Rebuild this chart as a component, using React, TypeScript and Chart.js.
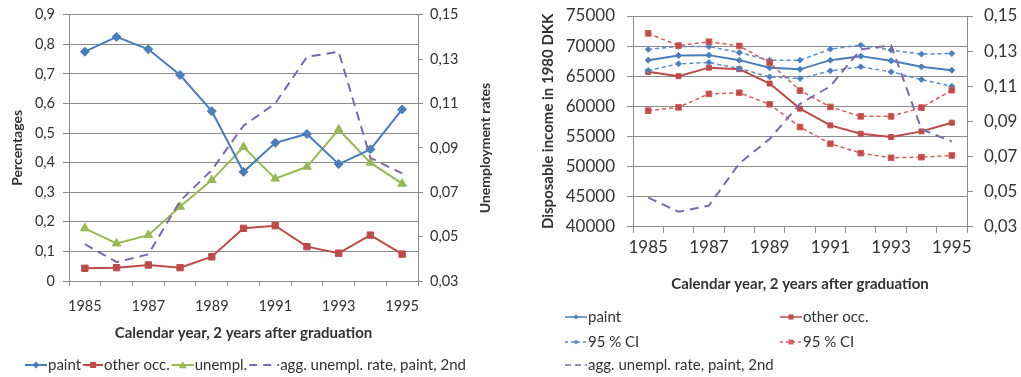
import React, { useEffect, useRef } from 'react';
import { Chart, registerables } from 'chart.js';

Chart.register(...registerables);

// ---------- data ----------
const years = ['1985', '1986', '1987', '1988', '1989', '1990', '1991', '1992', '1993', '1994', '1995'];
const yearTickLabels = ['1985', '', '1987', '', '1989', '', '1991', '', '1993', '', '1995'];

// left chart (shares, left axis)
const paintShare = [0.775, 0.825, 0.783, 0.696, 0.574, 0.369, 0.467, 0.497, 0.395, 0.445, 0.58];
const otherShare = [0.043, 0.045, 0.054, 0.045, 0.082, 0.178, 0.187, 0.116, 0.094, 0.155, 0.091];
const unemplShare = [0.178, 0.127, 0.155, 0.251, 0.341, 0.453, 0.346, 0.386, 0.512, 0.4, 0.329];
// aggregate unemployment rate (right axis, both charts)
const aggUnemplRate = [0.0466, 0.0385, 0.042, 0.066, 0.08, 0.1, 0.11, 0.131, 0.1333, 0.0855, 0.0785];

// right chart (disposable income, left axis)
const paintIncome = [67667, 68450, 68500, 67667, 66400, 66140, 67667, 68333, 67556, 66556, 66000];
const paintIncomeHi = [69444, 69944, 69944, 68920, 67667, 67667, 69500, 70167, 69333, 68667, 68778];
const paintIncomeLo = [65944, 67055, 67278, 66278, 64889, 64611, 65889, 66556, 65722, 64444, 63333];
const otherIncome = [65722, 65000, 66420, 66167, 63778, 59611, 56833, 55444, 54889, 55833, 57278];
const otherIncomeHi = [72111, 70083, 70722, 70028, 67250, 62611, 59889, 58333, 58333, 59778, 62667];
const otherIncomeLo = [59278, 59833, 62055, 62250, 60333, 56556, 53778, 52222, 51444, 51556, 51833];

// ---------- styles ----------
const FONT = 'Lato, "Open Sans", sans-serif';
const TEXT = '#333333';
const GRID = '#8c8c8c';
const BLUE = '#4a7ebb';
const BLUE_LIGHT = '#5b8dcc';
const RED = '#be4b48';
const RED_LIGHT = '#d35f5c';
const GREEN = '#98b954';
const PURPLE = '#8068a8';

type Marker = 'diamond' | 'square' | 'triangle' | 'none';
interface LegendEntry {
  text: string;
  color: string;
  dash: number[];
  marker: Marker;
  r: number;
  lw: number;
}
interface LegendSlot {
  x: number;
  w: number;
  tx: number;
  y: number;
}
interface LegendFlow {
  x: number;
  y: number;
  widths: number[];
  gapText: number;
  gapItem: number;
}

function drawMarker(ctx: CanvasRenderingContext2D, kind: Marker, x: number, y: number, r: number, color: string) {
  if (kind === 'none') return;
  ctx.save();
  ctx.setLineDash([]);
  ctx.fillStyle = color;
  ctx.beginPath();
  if (kind === 'diamond') {
    ctx.moveTo(x, y - r);
    ctx.lineTo(x + r, y);
    ctx.lineTo(x, y + r);
    ctx.lineTo(x - r, y);
  } else if (kind === 'square') {
    ctx.rect(x - r, y - r, 2 * r, 2 * r);
  } else {
    ctx.moveTo(x, y - r);
    ctx.lineTo(x + r, y + r * 0.8);
    ctx.lineTo(x - r, y + r * 0.8);
  }
  ctx.closePath();
  ctx.fill();
  ctx.restore();
}

function drawSample(ctx: CanvasRenderingContext2D, e: LegendEntry, x: number, y: number, w: number) {
  ctx.save();
  ctx.strokeStyle = e.color;
  ctx.lineWidth = e.lw;
  ctx.setLineDash(e.dash);
  ctx.beginPath();
  ctx.moveTo(x, y);
  ctx.lineTo(x + w, y);
  ctx.stroke();
  ctx.restore();
  drawMarker(ctx, e.marker, x + w / 2, y, e.r, e.color);
}

interface OverlayCfg {
  font: string;
  items: LegendEntry[];
  slots?: LegendSlot[];
  flow?: LegendFlow;
  rotatedTitle?: { text: string; x: number; y: number; font: string };
}

function makeOverlay(cfg: OverlayCfg) {
  return {
    id: 'xlOverlay',
    afterDraw(chart: any) {
      const ctx: CanvasRenderingContext2D = chart.ctx;
      ctx.save();
      ctx.font = cfg.font;
      ctx.textBaseline = 'middle';
      ctx.textAlign = 'left';
      if (cfg.flow) {
        const f = cfg.flow;
        let x = f.x;
        cfg.items.forEach((e, i) => {
          const w = f.widths[i];
          drawSample(ctx, e, x, f.y, w);
          x += w + f.gapText;
          ctx.fillStyle = TEXT;
          ctx.fillText(e.text, x, f.y);
          x += ctx.measureText(e.text).width + f.gapItem;
        });
      } else if (cfg.slots) {
        cfg.items.forEach((e, i) => {
          const s = cfg.slots![i];
          drawSample(ctx, e, s.x, s.y, s.w);
          ctx.fillStyle = TEXT;
          ctx.fillText(e.text, s.tx, s.y);
        });
      }
      if (cfg.rotatedTitle) {
        const t = cfg.rotatedTitle;
        ctx.font = t.font;
        ctx.translate(t.x, t.y);
        ctx.rotate(-Math.PI / 2);
        ctx.textAlign = 'center';
        ctx.fillStyle = TEXT;
        ctx.fillText(t.text, 0, 0);
      }
      ctx.restore();
    },
  };
}

const fmt1 = (v: number) => (Math.abs(v) < 1e-9 ? '0' : Number(v).toFixed(1).replace('.', ','));
const fmt2 = (v: number) => Number(v).toFixed(2).replace('.', ',');

function leftConfig(): any {
  const tickFont = { family: FONT, size: 14.5 };
  const titleFont = { family: FONT, size: 15, weight: 'bold' as const };
  return {
    type: 'line',
    data: {
      labels: years,
      datasets: [
        {
          label: 'agg. unempl. rate, paint, 2nd',
          data: aggUnemplRate,
          yAxisID: 'y2',
          borderColor: PURPLE,
          borderWidth: 2,
          borderDash: [9, 6],
          pointRadius: 0,
          tension: 0,
        },
        {
          label: 'paint',
          data: paintShare,
          yAxisID: 'y',
          borderColor: BLUE,
          backgroundColor: BLUE,
          borderWidth: 2,
          pointStyle: 'rectRot',
          pointRadius: 4.5,
          pointBorderWidth: 1,
        },
        {
          label: 'other occ.',
          data: otherShare,
          yAxisID: 'y',
          borderColor: RED,
          backgroundColor: RED,
          borderWidth: 2,
          pointStyle: 'rect',
          pointRadius: 4.5,
          pointBorderWidth: 1,
        },
        {
          label: 'unempl.',
          data: unemplShare,
          yAxisID: 'y',
          borderColor: GREEN,
          backgroundColor: GREEN,
          borderWidth: 2,
          pointStyle: 'triangle',
          pointRadius: 5,
          pointBorderWidth: 1,
        },
      ],
    },
    options: {
      responsive: false,
      animation: false,
      layout: { padding: { left: 0, right: 0, top: 14.7, bottom: 34 } },
      plugins: { legend: { display: false }, tooltip: { enabled: false } },
      scales: {
        x: {
          type: 'category',
          offset: true,
          grid: { offset: true, drawOnChartArea: false, drawTicks: true, tickLength: 5, color: GRID },
          border: { display: true, color: GRID },
          ticks: {
            autoSkip: false,
            maxRotation: 0,
            minRotation: 0,
            padding: 12,
            font: tickFont,
            color: TEXT,
            callback: (_v: any, i: number) => yearTickLabels[i],
          },
          title: {
            display: true,
            text: 'Calendar year, 2 years after graduation',
            font: titleFont,
            color: TEXT,
            padding: { top: 0, bottom: 1 },
          },
          afterFit: (s: any) => {
            s.height = 62;
            s.paddingLeft = 0;
            s.paddingRight = 0;
          },
        },
        y: {
          position: 'left',
          min: 0,
          max: 0.9,
          ticks: { stepSize: 0.1, padding: 8, font: tickFont, color: TEXT, callback: (v: any) => fmt1(v) },
          grid: { color: GRID, tickLength: 6 },
          border: { display: true, color: GRID },
          title: {
            display: true,
            text: 'Percentages',
            font: { family: FONT, size: 14, weight: 'bold' },
            color: TEXT,
            padding: { top: 8.6, bottom: 0 },
          },
          afterFit: (s: any) => {
            s.width = 69;
            s.paddingTop = 0;
            s.paddingBottom = 0;
          },
        },
        y2: {
          position: 'right',
          min: 0.03,
          max: 0.15,
          ticks: { stepSize: 0.02, padding: 7, font: tickFont, color: TEXT, callback: (v: any) => fmt2(v) },
          grid: { drawOnChartArea: false, color: GRID, tickLength: 5 },
          border: { display: true, color: GRID },
          afterFit: (s: any) => {
            s.width = 102;
            s.paddingTop = 0;
            s.paddingBottom = 0;
          },
        },
      },
    },
    plugins: [
      makeOverlay({
        font: `15px ${FONT}`,
        items: [
          { text: 'paint', color: BLUE, dash: [], marker: 'diamond', r: 3.5, lw: 2 },
          { text: 'other occ.', color: RED, dash: [], marker: 'square', r: 3, lw: 2 },
          { text: 'unempl.', color: GREEN, dash: [], marker: 'triangle', r: 4, lw: 2 },
          { text: 'agg. unempl. rate, paint, 2nd', color: PURPLE, dash: [8, 6], marker: 'none', r: 0, lw: 2 },
        ],
        flow: { x: 25, y: 365, widths: [22, 20, 22, 30], gapText: 1, gapItem: 2 },
        rotatedTitle: { text: 'Unemployment rates', x: 485, y: 148, font: `bold 14px ${FONT}` },
      }),
    ],
  };
}

function rightConfig(): any {
  const tickFont = { family: FONT, size: 17 };
  const titleFont = { family: FONT, size: 15, weight: 'bold' as const };
  const ciCommon = { borderWidth: 1.5, borderDash: [4, 3], pointBorderWidth: 1, tension: 0 };
  return {
    type: 'line',
    data: {
      labels: years,
      datasets: [
        {
          label: 'agg. unempl. rate, paint, 2nd',
          data: aggUnemplRate,
          yAxisID: 'y2',
          borderColor: PURPLE,
          borderWidth: 2,
          borderDash: [9, 6],
          pointRadius: 0,
        },
        {
          label: '95 % CI',
          data: otherIncomeHi,
          yAxisID: 'y',
          borderColor: RED_LIGHT,
          backgroundColor: RED,
          pointStyle: 'rect',
          pointRadius: 4,
          ...ciCommon,
        },
        {
          label: '95 % CI (lower)',
          data: otherIncomeLo,
          yAxisID: 'y',
          borderColor: RED_LIGHT,
          backgroundColor: RED,
          pointStyle: 'rect',
          pointRadius: 4,
          ...ciCommon,
        },
        {
          label: '95 % CI',
          data: paintIncomeHi,
          yAxisID: 'y',
          borderColor: BLUE_LIGHT,
          backgroundColor: BLUE,
          pointStyle: 'rectRot',
          pointRadius: 3,
          ...ciCommon,
        },
        {
          label: '95 % CI (lower)',
          data: paintIncomeLo,
          yAxisID: 'y',
          borderColor: BLUE_LIGHT,
          backgroundColor: BLUE,
          pointStyle: 'rectRot',
          pointRadius: 3,
          ...ciCommon,
        },
        {
          label: 'other occ.',
          data: otherIncome,
          yAxisID: 'y',
          borderColor: RED,
          backgroundColor: RED,
          borderWidth: 2,
          pointStyle: 'rect',
          pointRadius: 3.5,
          pointBorderWidth: 1,
        },
        {
          label: 'paint',
          data: paintIncome,
          yAxisID: 'y',
          borderColor: BLUE,
          backgroundColor: BLUE,
          borderWidth: 2,
          pointStyle: 'rectRot',
          pointRadius: 3,
          pointBorderWidth: 1,
        },
      ],
    },
    options: {
      responsive: false,
      animation: false,
      layout: { padding: { left: 0, right: 0, top: 16, bottom: 82 } },
      plugins: { legend: { display: false }, tooltip: { enabled: false } },
      scales: {
        x: {
          type: 'category',
          offset: true,
          grid: { offset: true, drawOnChartArea: false, drawTicks: true, tickLength: 6, color: GRID },
          border: { display: true, color: GRID },
          ticks: {
            autoSkip: false,
            maxRotation: 0,
            minRotation: 0,
            padding: 5,
            font: tickFont,
            color: TEXT,
            callback: (_v: any, i: number) => yearTickLabels[i],
          },
          title: {
            display: true,
            text: 'Calendar year, 2 years after graduation',
            font: titleFont,
            color: TEXT,
            padding: { top: 0, bottom: 2 },
          },
          afterFit: (s: any) => {
            s.height = 68.3;
            s.paddingLeft = 0;
            s.paddingRight = 0;
          },
        },
        y: {
          position: 'left',
          min: 40000,
          max: 75000,
          ticks: { stepSize: 5000, padding: 12, font: tickFont, color: TEXT, callback: (v: any) => String(v) },
          grid: { color: GRID, tickLength: 6 },
          border: { display: true, color: GRID },
          title: {
            display: true,
            text: 'Disposable income in 1980 DKK',
            font: titleFont,
            color: TEXT,
            padding: { top: 19, bottom: 0 },
          },
          afterFit: (s: any) => {
            s.width = 113;
            s.paddingTop = 0;
            s.paddingBottom = 0;
          },
        },
        y2: {
          position: 'right',
          min: 0.03,
          max: 0.15,
          ticks: { stepSize: 0.02, padding: 11, font: tickFont, color: TEXT, callback: (v: any) => fmt2(v) },
          grid: { drawOnChartArea: false, color: GRID, tickLength: 6 },
          border: { display: true, color: GRID },
          afterFit: (s: any) => {
            s.width = 54;
            s.paddingTop = 0;
            s.paddingBottom = 0;
          },
        },
      },
    },
    plugins: [
      makeOverlay({
        font: `15px ${FONT}`,
        items: [
          { text: 'paint', color: BLUE, dash: [], marker: 'diamond', r: 2.5, lw: 1.5 },
          { text: 'other occ.', color: RED, dash: [], marker: 'square', r: 2.5, lw: 1.5 },
          { text: '95 % CI', color: BLUE_LIGHT, dash: [3, 3], marker: 'diamond', r: 2.5, lw: 1.5 },
          { text: '95 % CI', color: RED_LIGHT, dash: [3, 3], marker: 'square', r: 2.5, lw: 1.5 },
          { text: 'agg. unempl. rate, paint, 2nd', color: PURPLE, dash: [6, 4], marker: 'none', r: 0, lw: 1.5 },
        ],
        slots: [
          { x: 45, w: 22, tx: 68, y: 317 },
          { x: 260, w: 22, tx: 283, y: 317 },
          { x: 45, w: 22, tx: 68, y: 342 },
          { x: 260, w: 22, tx: 283, y: 342 },
          { x: 45, w: 22, tx: 68, y: 365 },
        ],
      }),
    ],
  };
}

function ChartCanvas({ width, height, makeConfig }: { width: number; height: number; makeConfig: () => any }) {
  const ref = useRef<HTMLCanvasElement | null>(null);
  useEffect(() => {
    if (!ref.current) return;
    const chart = new Chart(ref.current, makeConfig());
    return () => chart.destroy();
  }, [makeConfig]);
  return <canvas ref={ref} width={width} height={height} style={{ display: 'block', width, height }} />;
}

export default function App() {
  return (
    <div
      style={{
        position: 'absolute',
        left: 0,
        top: 0,
        width: 1021,
        height: 377,
        background: '#ffffff',
        display: 'flex',
        overflow: 'hidden',
      }}
    >
      <ChartCanvas width={520} height={377} makeConfig={leftConfig} />
      <ChartCanvas width={501} height={377} makeConfig={rightConfig} />
    </div>
  );
}
